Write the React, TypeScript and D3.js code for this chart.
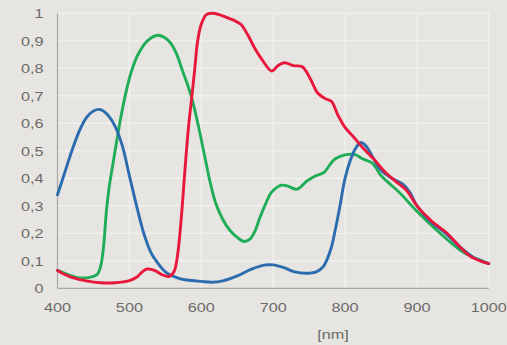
import React from "react";
import * as d3 from "d3";

const xTicks = [400, 500, 600, 700, 800, 900, 1000];
const yTicks = [0, 0.1, 0.2, 0.3, 0.4, 0.5, 0.6, 0.7, 0.8, 0.9, 1];
const yTickLabels = ["0", "0,1", "0,2", "0,3", "0,4", "0,5", "0,6", "0,7", "0,8", "0,9", "1"];
const xTitle = "[nm]";

const blueNm = [400, 410, 420, 430, 440, 450, 460, 470, 480, 490, 500, 510, 520, 530, 540, 550, 560, 570, 580, 600, 615, 630, 650, 670, 690, 700, 715, 730, 745, 760, 770, 780, 787, 793, 800, 808, 815, 822, 830, 840, 850, 865, 880, 890, 900, 920, 940, 960, 980, 1000];
const blueVal = [0.34, 0.42, 0.5, 0.57, 0.62, 0.645, 0.65, 0.63, 0.59, 0.52, 0.41, 0.3, 0.2, 0.13, 0.09, 0.06, 0.045, 0.035, 0.03, 0.025, 0.022, 0.027, 0.045, 0.07, 0.085, 0.085, 0.075, 0.06, 0.055, 0.06, 0.08, 0.14, 0.22, 0.3, 0.4, 0.47, 0.51, 0.53, 0.515, 0.47, 0.43, 0.4, 0.38, 0.35, 0.3, 0.24, 0.2, 0.15, 0.11, 0.09];

const redNm = [400, 410, 420, 440, 460, 480, 500, 510, 518, 525, 535, 545, 555, 562, 567, 572, 577, 582, 587, 591, 595, 600, 607, 615, 625, 635, 645, 655, 665, 675, 685, 698, 707, 716, 728, 741, 752, 762, 772, 781, 790, 800, 812, 825, 840, 855, 870, 886, 900, 920, 942, 960, 975, 1000];
const redVal = [0.065, 0.05, 0.04, 0.027, 0.02, 0.02, 0.028, 0.04, 0.06, 0.07, 0.065, 0.05, 0.043, 0.06, 0.12, 0.25, 0.42, 0.58, 0.7, 0.8, 0.9, 0.96, 0.995, 1.0, 0.995, 0.985, 0.975, 0.96, 0.92, 0.87, 0.83, 0.79, 0.81, 0.82, 0.81, 0.805, 0.76, 0.71, 0.69, 0.68, 0.63, 0.585, 0.55, 0.51, 0.47, 0.425, 0.39, 0.355, 0.3, 0.245, 0.2, 0.15, 0.115, 0.09];

const greenNm = [400, 415, 430, 445, 455, 460, 464, 468, 472, 477, 482, 488, 495, 503, 512, 525, 540, 550, 558, 566, 574, 581, 588, 596, 604, 612, 620, 630, 640, 650, 660, 668, 675, 682, 690, 698, 712, 722, 733, 747, 760, 770, 786, 804, 815, 825, 838, 850, 860, 875, 900, 928, 950, 965, 985, 1000];
const greenVal = [0.065, 0.05, 0.038, 0.04, 0.05, 0.08, 0.15, 0.28, 0.37, 0.45, 0.53, 0.62, 0.71, 0.79, 0.85, 0.9, 0.92, 0.91, 0.89, 0.85, 0.79, 0.74, 0.68, 0.59, 0.49, 0.39, 0.31, 0.25, 0.21, 0.185, 0.17, 0.18, 0.21, 0.26, 0.31, 0.35, 0.375, 0.37, 0.36, 0.39, 0.41, 0.42, 0.47, 0.487, 0.485, 0.47, 0.455, 0.41, 0.385, 0.35, 0.28, 0.21, 0.16, 0.13, 0.105, 0.09];

const series = [
  { name: "green", nm: greenNm, val: greenVal, color: "#1fae57" },
  { name: "blue", nm: blueNm, val: blueVal, color: "#2b6cae" },
  { name: "red", nm: redNm, val: redVal, color: "#e8173c" },
];

export default function App() {
  const W = 507, H = 345;
  const x = d3.scaleLinear().domain([400, 1000]).range([57.5, 488.8]);
  const y = d3.scaleLinear().domain([0, 1]).range([288.3, 13.3]);
  const line = d3.line<[number, number]>()
    .x((d) => x(d[0]))
    .y((d) => y(d[1]))
    .curve(d3.curveCatmullRom.alpha(0.5));
  const font = "'Liberation Sans', Arial, sans-serif";
  const fs = 13.5;
  const sx = 1.2;
  const txtColor = "#6b6a68";
  return (
    <svg width={W} height={H} style={{ position: "absolute", left: 0, top: 0 }}>
      <rect x={0} y={0} width={W} height={H} fill="#e7e5e2" />
      {yTicks.slice(1).map((t) => (
        <line key={"gy" + t} x1={x(400)} x2={x(1000)} y1={y(t)} y2={y(t)} stroke="#f3f2f0" strokeWidth={1.2} />
      ))}
      {xTicks.slice(1).map((t) => (
        <line key={"gx" + t} x1={x(t)} x2={x(t)} y1={y(0)} y2={y(1)} stroke="#f3f2f0" strokeWidth={1.2} />
      ))}
      <line x1={x(400)} x2={x(400)} y1={y(1)} y2={y(0)} stroke="#a9a8a6" strokeWidth={1.2} />
      <line x1={x(400)} x2={x(1000)} y1={y(0)} y2={y(0)} stroke="#a9a8a6" strokeWidth={1.2} />
      {series.map((s) => (
        <path key={s.name} d={line(s.nm.map((n, i) => [n, s.val[i]] as [number, number])) || ""}
          fill="none" stroke={s.color} strokeWidth={2.9} strokeLinejoin="round" strokeLinecap="round" />
      ))}
      {yTicks.map((t, i) => (
        <text key={"ly" + t} transform={`translate(43.5,${y(t)}) scale(${sx},1)`} dy="0.35em" textAnchor="end"
          fontFamily={font} fontSize={fs} fill={txtColor}>
          {yTickLabels[i]}
        </text>
      ))}
      {xTicks.map((t) => (
        <text key={"lx" + t} transform={`translate(${x(t)},311.5) scale(${sx},1)`} textAnchor="middle"
          fontFamily={font} fontSize={fs} fill={txtColor}>
          {t}
        </text>
      ))}
      <text transform={`translate(333,338.5) scale(${sx},1)`} textAnchor="middle" fontFamily={font} fontSize={fs} fill={txtColor}>
        {xTitle}
      </text>
    </svg>
  );
}
